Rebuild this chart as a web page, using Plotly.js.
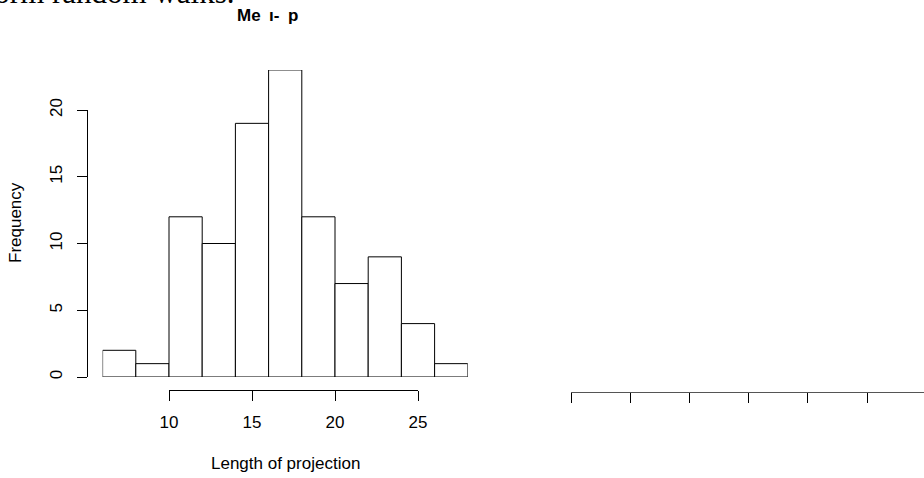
<!DOCTYPE html>
<html><head><meta charset="utf-8">
<script src="https://cdn.plot.ly/plotly-3.0.1.min.js"></script>
<style>html,body{margin:0;padding:0;background:#fff}#chart{width:924px;height:478px}</style>
</head><body><div id="chart"></div>
<script>
// ---- data ----
const binStarts = [6, 8, 10, 12, 14, 16, 18, 20, 22, 24, 26];
const binWidth = 2;
const counts = [2, 1, 12, 10, 19, 23, 12, 7, 9, 4, 1];
const xTicks = [10, 15, 20, 25];
const yTicks = [0, 5, 10, 15, 20];
const panel2Ticks = [0, 1, 2, 3, 4, 5];
const titleText = 'Me\u2002ı-\u2002p';
const xLabel = 'Length of projection';
const yLabel = 'Frequency';
const topText = 'form random walks.';

// ---- layout helpers (pixel -> paper) ----
const W = 924, H = 478;
const px = x => x / W;
const py = y => (H - y) / H;
const sans = 'Liberation Sans, Arial, Helvetica, sans-serif';
const serif = 'Liberation Serif, Times New Roman, serif';

const binCenters = binStarts.map(s => s + binWidth / 2);

const traces = [
  {type: 'bar', x: binCenters, y: counts, width: binStarts.map(() => binWidth),
   marker: {color: '#ffffff', line: {color: '#000000', width: 1}},
   xaxis: 'x', yaxis: 'y', hoverinfo: 'skip', showlegend: false},
  {type: 'scatter', mode: 'markers', x: [], y: [], xaxis: 'x2', yaxis: 'y2', showlegend: false, hoverinfo: 'skip'},
  {type: 'scatter', mode: 'markers', x: [], y: [], xaxis: 'x3', yaxis: 'y2', showlegend: false, hoverinfo: 'skip'}
];

const axisStyle = {
  showline: true, linecolor: '#000', linewidth: 1, ticks: 'outside', ticklen: 10,
  tickcolor: '#000', tickwidth: 1, showgrid: false, zeroline: false,
  tickfont: {family: sans, size: 17, color: '#000'}, fixedrange: true
};

const layout = {
  width: W, height: H,
  margin: {l: 0, r: 0, t: 0, b: 0, pad: 0},
  paper_bgcolor: '#fff', plot_bgcolor: 'rgba(0,0,0,0)',
  showlegend: false, bargap: 0,
  xaxis: {domain: [px(102.6), px(467.8)], range: [6, 28], visible: false, fixedrange: true},
  yaxis: {domain: [py(377), py(69.95)], range: [0, 23], visible: false, fixedrange: true},
  xaxis2: Object.assign({}, axisStyle, {domain: [px(169), px(418)], range: [10, 25],
    anchor: 'free', position: py(390), tickvals: xTicks, ticktext: xTicks.map(String), ticklabelstandoff: 7}),
  yaxis2: Object.assign({}, axisStyle, {domain: [py(377), py(110)], range: [0, 20],
    anchor: 'free', position: px(87), side: 'left', tickvals: yTicks, ticktext: yTicks.map(String),
    tickangle: -90, ticklabelstandoff: 8}),
  xaxis3: Object.assign({}, axisStyle, {domain: [px(571), 1], range: [0, (924 - 571) / 59.2],
    anchor: 'free', position: py(392), tickvals: panel2Ticks, showticklabels: false, linecolor: '#555'}),
  annotations: [
    {text: yLabel, xref: 'paper', yref: 'paper', x: px(15), y: py(223), textangle: -90,
     showarrow: false, xanchor: 'center', yanchor: 'middle', font: {family: sans, size: 17, color: '#000'}},
    {text: xLabel, xref: 'paper', yref: 'paper', x: px(285), y: py(463),
     showarrow: false, xanchor: 'center', yanchor: 'middle', font: {family: sans, size: 17, color: '#000'}},
    {text: '<b>' + titleText + '</b>', xref: 'paper', yref: 'paper', x: px(267), y: py(16),
     showarrow: false, xanchor: 'center', yanchor: 'middle', font: {family: sans, size: 17, color: '#000'}},
    {text: topText, xref: 'paper', yref: 'paper', x: px(237), y: py(-7),
     showarrow: false, xanchor: 'right', yanchor: 'middle', font: {family: serif, size: 31, color: '#000'}}
  ]
};

Plotly.newPlot('chart', traces, layout, {displayModeBar: false, staticPlot: true});
</script>
</body></html>
